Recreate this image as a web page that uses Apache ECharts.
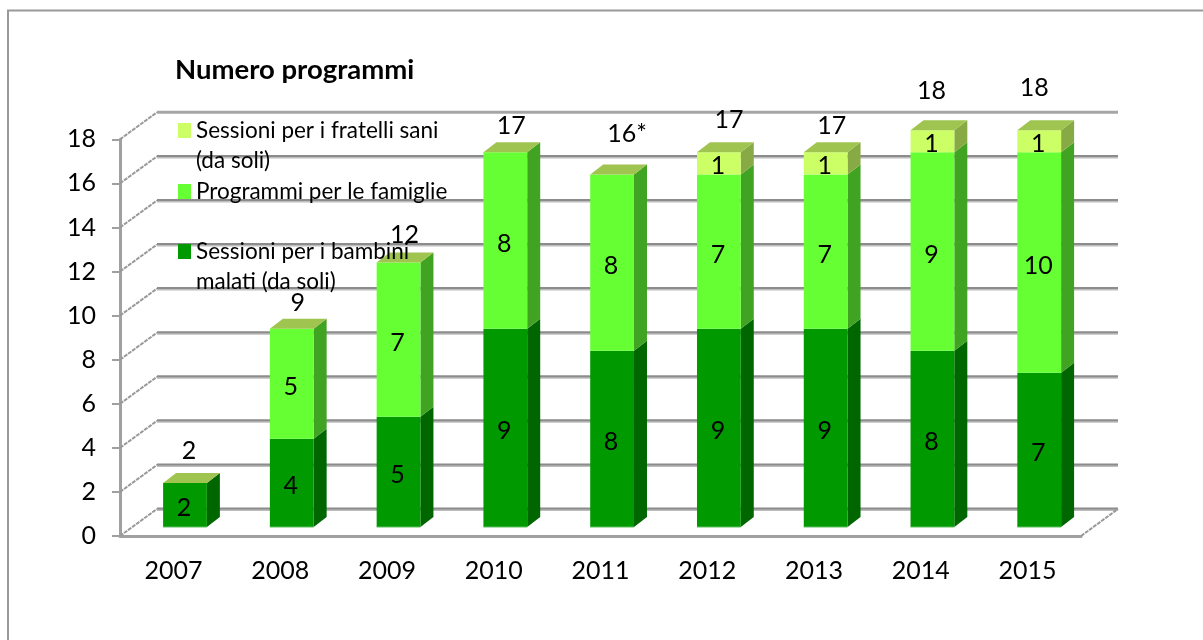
<!DOCTYPE html>
<html>
<head>
<meta charset="utf-8">
<title>Numero programmi</title>
<style>
    html,body{margin:0;padding:0;background:#fff;}
    #chart{width:1203px;height:640px;}
</style>
<script src="https://cdn.jsdelivr.net/npm/echarts@6/dist/echarts.min.js"></script>
</head>
<body>
<div id="chart"></div>
<script>
var years = ['2007','2008','2009','2010','2011','2012','2013','2014','2015'];
var bambini = [2,4,5,9,8,9,9,8,7];
var famiglie = [0,5,7,8,8,7,7,9,10];
var fratelli = [0,0,0,0,0,1,1,1,1];
var totals = [2,9,12,17,16,17,17,18,18];
var totalTexts = ['2','9','12','17','16*','17','17','18','18'];
var yTicks = [0,2,4,6,8,10,12,14,16,18];

var nameBambini = 'Sessioni per i bambini\nmalati (da soli)';
var nameFamiglie = 'Programmi per le famiglie';
var nameFratelli = 'Sessioni per i fratelli sani\n(da soli)';

// hand placed total labels of the original, dx/dy from the top of the bar
var totalNudge = [[4,-32],[6,-26],[6,-28],[6,-26],[15,-40],[10,-32],[6,-26],[-1,-39],[-5,-42]];

var chart = echarts.init(document.getElementById('chart'));
var FONT = 'Lato';
var LABEL_SIZE = 25;

// pseudo 3d settings
var WALL_DX = 37, WALL_DY = -27;    // back wall from front plane
var BAR_DX = 11.6, BAR_DY = -9;     // bar front face from front plane
var DEPTH_DX = 13, DEPTH_DY = -10;  // bar depth
var TOP_COLOR = '#9fc44f';

function stackBelow(level, i) {
    var s = 0;
    var all = [bambini, famiglie, fratelli];
    for (var k = 0; k < level; k++) { s += all[k][i]; }
    return s;
}

// one stacked segment: front, side and (if last of the bar) the top face
function segmentItem(level, values, frontColor, sideColor) {
    return function (params, api) {
        var i = api.value(0);
        var v = values[i];
        if (!v) { return {type:'group', children:[]}; }
        var base = stackBelow(level, i);
        var low = api.coord([i, base]);
        var high = api.coord([i, base + v]);
        var w = api.size([1, 0])[0] * 0.41;
        var x0 = low[0] + BAR_DX - w / 2, x1 = x0 + w;
        var y0 = low[1] + BAR_DY, y1 = high[1] + BAR_DY;
        var kids = [
            {type:'polygon', shape:{points:[[x1,y0],[x1+DEPTH_DX,y0+DEPTH_DY],[x1+DEPTH_DX,y1+DEPTH_DY],[x1,y1]]}, style:{fill:sideColor}},
            {type:'rect', shape:{x:x0, y:y1, width:w, height:y0-y1}, style:{fill:frontColor}}
        ];
        if (level === 0) {
            // thin light edge along the foot of the bar
            kids.push({type:'line', shape:{x1:x0, y1:y0, x2:x1, y2:y0}, style:{stroke:'#5fbf5f', lineWidth:1}});
        }
        if (base + v === totals[i]) {
            kids.push({type:'polygon', shape:{points:[[x0,y1],[x1,y1],[x1+DEPTH_DX,y1+DEPTH_DY],[x0+DEPTH_DX,y1+DEPTH_DY]]}, style:{fill:TOP_COLOR}});
        }
        kids.push({type:'text', style:{x:(x0+x1)/2-1, y:(y0+y1)/2+3, text:String(v), fill:'#000', font:LABEL_SIZE+'px '+FONT, align:'center', verticalAlign:'middle'}});
        return {type:'group', children:kids};
    };
}

function renderWalls(params, api) {
    var v = api.value(0);
    var cs = params.coordSys;
    var y = api.coord([0, v])[1];
    var kids = [];
    var bx = cs.x + WALL_DX, by = y + WALL_DY, ex = cs.x + cs.width + WALL_DX;
    // side wall diagonal
    kids.push({type:'line', shape:{x1:cs.x, y1:y, x2:bx, y2:by}, style:{stroke:'#999', lineWidth:2, lineDash:[4,1]}});
    // back wall line, dark on top and light below
    if (v === 18) {
        kids.push({type:'line', shape:{x1:bx, y1:by, x2:ex, y2:by}, style:{stroke:'#a6a6a6', lineWidth:3}});
    } else {
        kids.push({type:'line', shape:{x1:bx, y1:by+1, x2:ex, y2:by+1}, style:{stroke:'#bdbdbd', lineWidth:2}});
        kids.push({type:'line', shape:{x1:bx, y1:by-0.5, x2:ex, y2:by-0.5}, style:{stroke:'#8c8c8c', lineWidth:2}});
    }
    if (v === 0) {
        kids.push({type:'line', shape:{x1:cs.x+cs.width, y1:y, x2:ex, y2:by}, style:{stroke:'#999', lineWidth:2, lineDash:[4,1]}});
    }
    return {type:'group', children:kids};
}

function renderTotal(params, api) {
    var i = api.value(0);
    var p = api.coord([i, api.value(1)]);
    var n = totalNudge[i];
    return {type:'text', style:{x:p[0]+BAR_DX+n[0], y:p[1]+BAR_DY+n[1], text:totalTexts[i], fill:'#000', font:LABEL_SIZE+'px '+FONT, align:'center', verticalAlign:'middle'}};
}

function pairs(arr) {
    var out = [];
    for (var i = 0; i < arr.length; i++) { out.push([i, arr[i]]); }
    return out;
}

// the marker sits on the first line: a blank line on top keeps it there for two line names
function legendItem(name, top) {
    return {
        data:[name], orient:'vertical', left:178, top:top, padding:0,
        itemWidth:13, itemHeight:15, itemGap:0, icon:'rect', selectedMode:false,
        formatter:function (n) { return n.indexOf('\n') >= 0 ? '\n' + n : n; },
        textStyle:{fontFamily:FONT, fontSize:22.5, color:'#000', lineHeight:30}
    };
}

var option = {
    backgroundColor:'#fff',
    animation:false,
    title:{text:'Numero programmi', left:175, top:56, padding:0, textStyle:{fontFamily:FONT, fontSize:27.5, fontWeight:'bold', color:'#000'}},
    legend:[legendItem(nameFratelli, 85.5), legendItem(nameFamiglie, 176.5), legendItem(nameBambini, 206.5)],
    grid:{left:120, width:961, top:139.3, height:396.7},
    xAxis:{
        type:'category', data:years,
        axisLine:{lineStyle:{color:'#a0a0a0', width:3}},
        axisTick:{length:8, lineStyle:{color:'#a0a0a0', width:2}},
        axisLabel:{fontFamily:FONT, fontSize:LABEL_SIZE, color:'#000', margin:22}
    },
    yAxis:{
        type:'value', min:0, max:18, interval:2,
        axisLine:{show:true, lineStyle:{color:'#a0a0a0', width:3}},
        axisTick:{show:true, length:8, lineStyle:{color:'#a0a0a0', width:2}},
        splitLine:{show:false},
        axisLabel:{fontFamily:FONT, fontSize:LABEL_SIZE, color:'#000', margin:24, padding:[3,0,0,0]}
    },
    series:[
        {type:'custom', name:'walls', renderItem:renderWalls, data:yTicks, z:1, silent:true, encode:{y:0}},
        {type:'custom', name:nameBambini, renderItem:segmentItem(0,bambini,'#009900','#006600'), data:pairs(bambini), itemStyle:{color:'#009900'}, z:2},
        {type:'custom', name:nameFamiglie, renderItem:segmentItem(1,famiglie,'#66ff33','#40a322'), data:pairs(famiglie), itemStyle:{color:'#66ff33'}, z:3},
        {type:'custom', name:nameFratelli, renderItem:segmentItem(2,fratelli,'#ccff66','#88aa44'), data:pairs(fratelli), itemStyle:{color:'#ccff66'}, z:4},
        {type:'custom', name:'totali', renderItem:renderTotal, data:pairs(totals), z:5, silent:true}
    ],
    graphic:[
        {type:'line', shape:{x1:7, y1:10.5, x2:1203, y2:10.5}, style:{stroke:'#999', lineWidth:2}},
        {type:'line', shape:{x1:8, y1:10, x2:8, y2:640}, style:{stroke:'#999', lineWidth:2}}
    ]
};
chart.setOption(option);
</script>
</body>
</html>
